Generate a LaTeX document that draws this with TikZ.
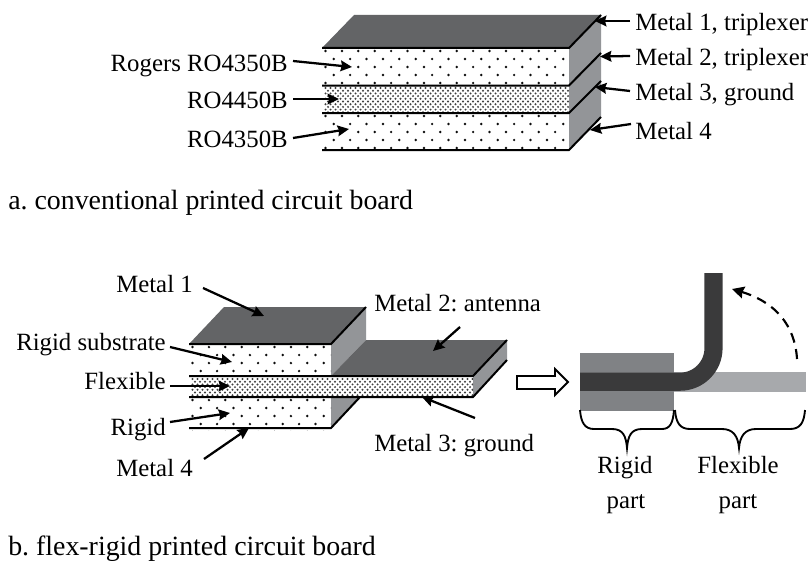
\documentclass[tikz,border=0pt]{standalone}
\usepackage{fontspec}
\setmainfont{Liberation Serif}
\usetikzlibrary{arrows.meta}
\definecolor{topc}{HTML}{636466}
\definecolor{sidec}{HTML}{939598}
\definecolor{rigidc}{HTML}{808285}
\definecolor{darkc}{HTML}{3A3A3B}
\definecolor{lightc}{HTML}{A7A9AC}
\newcommand{\dotfield}[8]{%
  \begin{scope}
    \clip (#1,#2) rectangle (#3,#4);
    \pgfmathtruncatemacro{\ncols}{(#3-#1)/#5+1}
    \pgfmathtruncatemacro{\nrows}{(#4-#2)/#6+1}
    \foreach \r in {0,...,\nrows}{
      \pgfmathsetmacro{\sh}{mod(\r,2)*#5/2}
      \foreach \c in {0,...,\ncols}{
        \fill[black!#7] ({#1+3.5+\c*#5+\sh},{#2+2+\r*#6}) circle[radius=#8];
      }
    }
  \end{scope}}
\tikzset{
  lbl/.style={inner sep=0pt,font=\fontsize{18.6}{20}\selectfont},
  captext/.style={inner sep=0pt,font=\fontsize{20.9}{24}\selectfont,anchor=base west},
  edgeline/.style={line width=1.5pt,black},
  pointer/.style={line width=1.7pt,black,-{Stealth[length=8.5pt,width=8pt,inset=1pt]}},
  brace/.style={line width=1.4pt,black},
}
\begin{document}
\frenchspacing
\begin{tikzpicture}[x=0.75pt,y=-0.75pt]
\fill[white] (0,0) rectangle (812,560);
\useasboundingbox (0,0) rectangle (812,560);
% --- part a
\fill[topc] (322,48) -- (354,15) -- (601,15) -- (569,48) -- cycle;
\fill[sidec] (569,48) -- (601,15) -- (601,117) -- (569,150) -- cycle;
\dotfield{322}{49}{569}{85}{16.4}{8}{95}{1.35}
\dotfield{322}{86}{569}{113}{5}{2.7}{75}{1.1}
\dotfield{322}{114}{569}{152}{16.4}{8}{95}{1.35}
\draw[edgeline] (322,48) -- (569,48) -- (601,15);
\draw[edgeline] (322,85.5) -- (569,85.5) -- (601,53);
\draw[edgeline] (322,113) -- (569,113) -- (601,81);
\draw[edgeline] (322,150) -- (569,150) -- (601,117);
\node[lbl,anchor=base east] (rogers) at (288,71.7) {Rogers RO4350B};
\node[lbl,anchor=base east] (ro44) at (288,108) {RO4450B};
\node[lbl,anchor=base east] (ro43) at (288,147) {RO4350B};
\node[lbl,anchor=base west] (m1t) at (635,31) {Metal 1, triplexer};
\node[lbl,anchor=base west] (m2t) at (635,65) {Metal 2, triplexer};
\node[lbl,anchor=base west] (m3g) at (635,100) {Metal 3, ground};
\node[lbl,anchor=base west] (m4a) at (635,139) {Metal 4};
\coordinate (sa1) at (293,61);   \coordinate (ra1) at (352,67);
\coordinate (sa2) at (293,99);   \coordinate (ra2) at (339,99);
\coordinate (sa3) at (293,138);  \coordinate (ra3) at (349,129);
\coordinate (sb1) at (630,21);   \coordinate (la1) at (595,21);
\coordinate (sb2) at (630,56);   \coordinate (la2) at (600,56.5);
\coordinate (sb3) at (630,91);   \coordinate (la3) at (595,87);
\coordinate (sb4) at (631,124);  \coordinate (la4) at (590,130);
\draw[pointer] (sa1) -- (ra1);
\draw[pointer] (sa2) -- (ra2);
\draw[pointer] (sa3) -- (ra3);
\draw[pointer] (sb1) -- (la1);
\draw[pointer] (sb2) -- (la2);
\draw[pointer] (sb3) -- (la3);
\draw[pointer] (sb4) -- (la4);
\node[captext] (capa) at (8,209) {a. conventional printed circuit board};
% --- part b
\fill[topc] (189,344) -- (224,307) -- (366,307) -- (331,344) -- cycle;
\fill[sidec] (331,344) -- (366,307) -- (366,340) -- (331,376) -- cycle;
\fill[topc] (331,376) -- (366,340) -- (507,340) -- (473,376) -- cycle;
\fill[sidec] (473,376) -- (507,340) -- (507,360) -- (473,397) -- cycle;
\fill[sidec] (331,397) -- (360,397) -- (331,428) -- cycle;
\dotfield{189}{345}{331}{376}{16.4}{8}{95}{1.35}
\dotfield{189}{377}{473}{397}{5}{2.7}{75}{1.1}
\dotfield{189}{398}{331}{430}{16.4}{8}{95}{1.35}
\draw[edgeline] (189,344) -- (331,344) -- (366,307);
\draw[edgeline] (189,376) -- (473,376) -- (507,340);
\draw[edgeline] (189,397) -- (473,397) -- (507,360);
\draw[edgeline] (189,428) -- (331,428) -- (360,397);
\node[lbl,anchor=base east] (m1b) at (193,292) {Metal 1};
\node[lbl,anchor=base west] (m2b) at (374,311.7) {Metal 2: antenna};
\node[lbl,anchor=base east] (rsub) at (166,350.7) {Rigid substrate};
\node[lbl,anchor=base east] (flex) at (166,389) {Flexible};
\node[lbl,anchor=base east] (rig) at (166,435) {Rigid};
\node[lbl,anchor=base east] (m4b) at (193,476.7) {Metal 4};
\node[lbl,anchor=base west] (m3b) at (374,451.7) {Metal 3: ground};
\coordinate (s1) at (203,288); \coordinate (e1) at (264,316);
\coordinate (s2) at (460,327); \coordinate (e2) at (433,351);
\coordinate (s3) at (170,347); \coordinate (e3) at (232,362);
\coordinate (s4) at (170,386); \coordinate (e4) at (230,386);
\coordinate (s5) at (170,422); \coordinate (e5) at (230,413);
\coordinate (s6) at (204,459); \coordinate (e6) at (249,428);
\coordinate (s7) at (475,418); \coordinate (e7) at (422,397);
\draw[pointer] (s1) -- (e1);
\draw[pointer] (s2) -- (e2);
\draw[pointer] (s3) -- (e3);
\draw[pointer] (s4) -- (e4);
\draw[pointer] (s5) -- (e5);
\draw[pointer] (s6) -- (e6);
\draw[pointer] (s7) -- (e7);
% block arrow
\draw[line width=1.4pt,fill=white] (517,376) -- (555,376) -- (555,369) -- (568,382) -- (555,395) -- (555,389) -- (517,389) -- cycle;
% bent board
\fill[lightc] (674,372) rectangle (806,391.5);
\fill[rigidc] (580,353) rectangle (674,410.5);
\draw[darkc,line width=13.6pt] (580,381.7) -- (680,381.7) .. controls (698.5,381.7) and (713.5,366.7) .. (713.5,348.2) -- (713.5,273);
% dashed arrow
\draw[line width=1.6pt,dash pattern=on 7.5pt off 5pt,-{Stealth[length=9pt,width=9pt,inset=1pt]}] (797,359) .. controls (795,325) and (775,302) .. (732,289);
% braces
\draw[brace] (580,410) .. controls (581,423) and (585,429) .. (594,429) -- (612,429) .. controls (623,429) and (626,436) .. (627,448) .. controls (628,436) and (631,429) .. (642,429) -- (662,429) .. controls (670,429) and (673,423) .. (674,410);
\draw[brace] (675,410) .. controls (676,423) and (680,429) .. (690,429) -- (722,429) .. controls (733,429) and (738,436) .. (739,448) .. controls (740,436) and (745,429) .. (756,429) -- (790,429) .. controls (800,429) and (804,423) .. (805,410);
\node[lbl,anchor=base] (rp1) at (625,473) {Rigid};
\node[lbl,anchor=base] (rp2) at (626,508) {part};
\node[lbl,anchor=base] (fp1) at (738,473) {Flexible};
\node[lbl,anchor=base] (fp2) at (738,508) {part};
\node[captext] (capb) at (8,555) {b. flex-rigid printed circuit board};
\end{tikzpicture}
\end{document}
